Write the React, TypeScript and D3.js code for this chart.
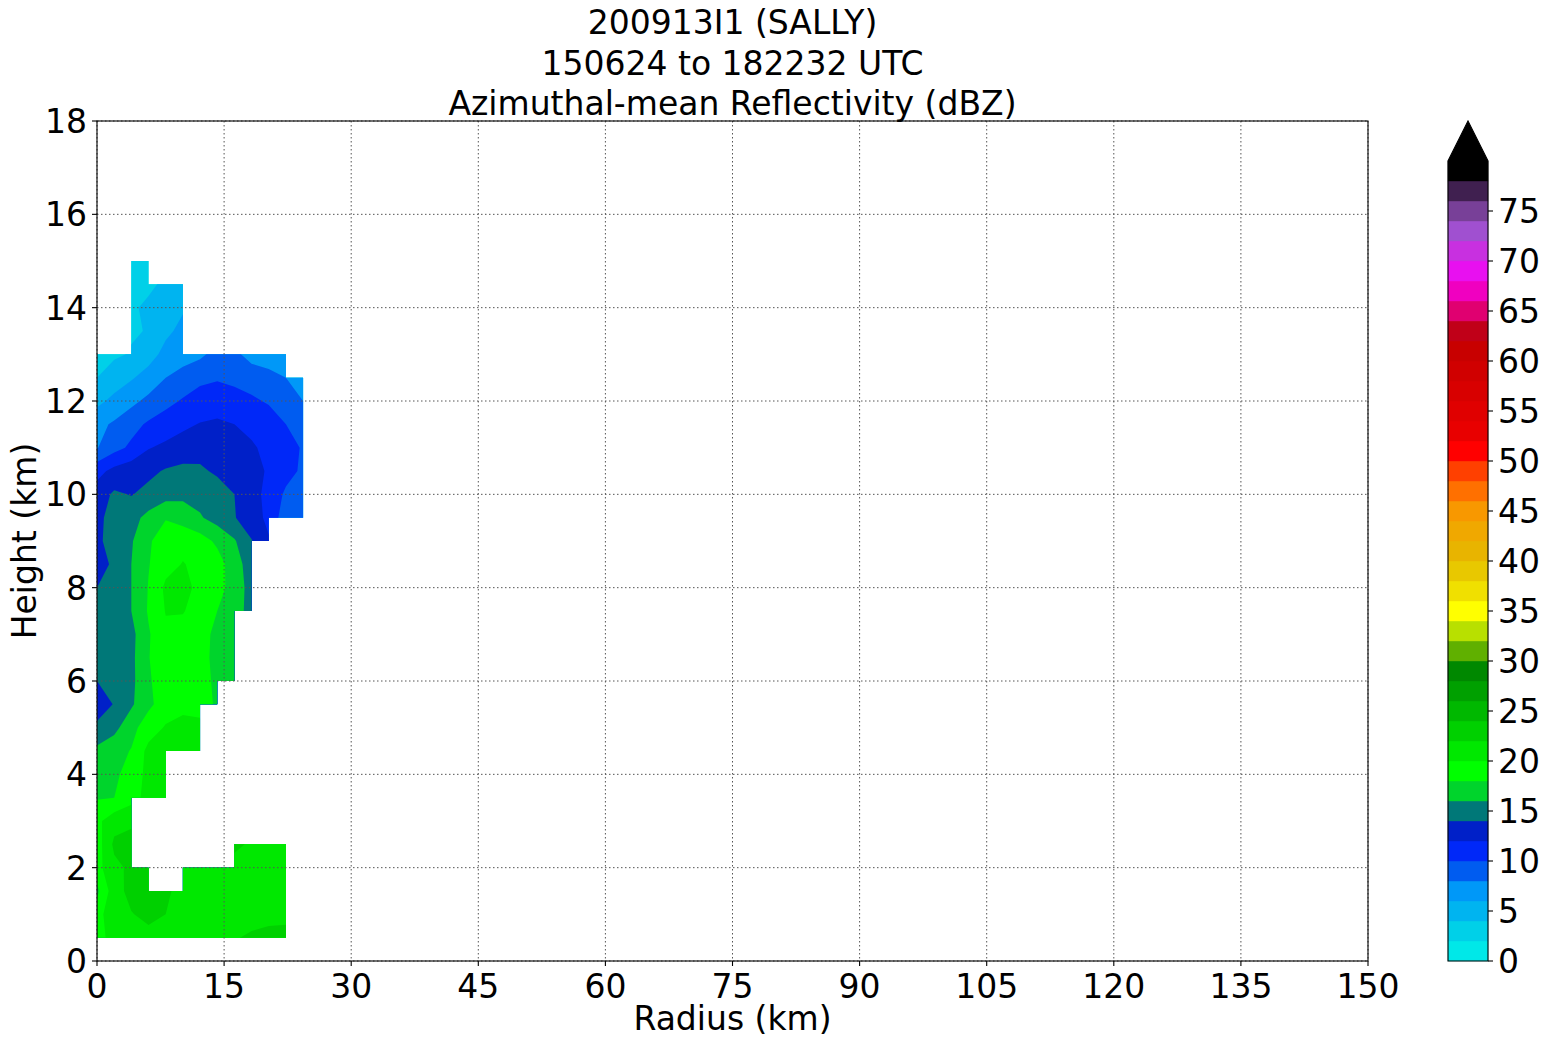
import React, { useEffect, useRef } from 'react';
import * as d3 from 'd3';

// analysis grid (km)
const radiusKm = [0, 2.03, 4.05, 6.08, 8.11, 10.14, 12.16, 14.19, 16.22, 18.24, 20.27, 22.3, 24.32];
const heightKm = [
  0, 0.5, 1, 1.5, 2, 2.5, 3, 3.5, 4, 4.5, 5, 5.5, 6, 6.5, 7, 7.5, 8, 8.5, 9, 9.5, 10, 10.5, 11,
  11.5, 12, 12.5, 13, 13.5, 14, 14.5, 15
];

const N = null;
// azimuthal-mean reflectivity (dBZ), one row per height, null = no data
const dbzRows: (number | null)[][] = [
  [N, N, N, N, N, N, N, N, N, N, N, N, N],
  [19.2, 20.8, 21.3, 21.4, 21.5, 21.5, 21.6, 21.7, 21.9, 22.2, 22.4, 22.5, N],
  [19.3, 21.2, 21.9, 22.5, 22.0, 21.4, 21.3, 21.2, 21.3, 21.5, 21.6, 21.6, N],
  [17.5, 21.2, 22.6, 23.0, 22.2, 21.6, 21.4, 21.3, 21.3, 21.2, 21.1, 21.2, N],
  [19.3, 21.5, 22.4, 22.6, N, 21.8, 21.6, 21.4, 21.5, 21.5, 21.3, 21.2, N],
  [19.0, 22.4, 22.8, N, N, N, N, N, 22.3, 21.8, 21.5, 21.5, N],
  [19.5, 21.2, 21.6, N, N, N, N, N, N, N, N, N, N],
  [17.85, 18.0, 19.3, 20.6, 21.0, N, N, N, N, N, N, N, N],
  [16.6, 17.6, 18.8, 20.6, 21.2, N, N, N, N, N, N, N, N],
  [16.5, 17.3, 18.1, 20.6, 21.0, 21.0, 20.5, N, N, N, N, N, N],
  [14.4, 15.4, 17.4, 19.0, 20.2, 20.6, 20.6, N, N, N, N, N, N],
  [13.0, 14.1, 15.7, 17.6, 18.9, 19.5, 19.2, 17.6, N, N, N, N, N],
  [14.0, 15.0, 15.5, 17.7, 19.3, 19.3, 18.9, 17.5, 16.7, N, N, N, N],
  [15.0, 15.3, 15.5, 17.9, 19.5, 19.3, 18.6, 17.5, 16.8, N, N, N, N],
  [15.0, 15.2, 15.4, 17.8, 19.6, 19.4, 18.6, 17.6, 16.9, N, N, N, N],
  [14.6, 15.3, 16.0, 18.2, 20.1, 20.1, 19.3, 18.0, 16.6, 15.5, N, N, N],
  [14.0, 15.0, 16.0, 18.1, 20.4, 20.6, 19.5, 18.9, 17.0, 15.3, N, N, N],
  [13.3, 14.3, 16.0, 17.9, 19.3, 20.1, 19.5, 18.9, 16.9, 15.0, N, N, N],
  [13.6, 14.8, 15.8, 17.8, 18.8, 19.4, 18.9, 17.6, 16.2, 14.1, 12.2, N, N],
  [13.6, 14.6, 15.3, 16.6, 17.9, 17.2, 16.2, 15.2, 14.1, 13.0, 11.5, 8.8, 8.5],
  [13.0, 14.3, 13.9, 14.6, 15.2, 15.5, 15.3, 14.9, 14.0, 12.5, 11.6, 9.6, 9.2],
  [11.3, 12.6, 13.2, 13.5, 14.2, 14.5, 14.3, 13.7, 13.3, 12.6, 11.8, 10.8, 9.6],
  [7.9, 9.3, 10.4, 11.9, 12.4, 12.9, 13.3, 13.3, 13.0, 12.2, 11.6, 10.8, 9.8],
  [7.4, 8.3, 9.3, 10.3, 11.0, 11.6, 12.1, 12.3, 12.0, 11.6, 11.0, 10.0, 9.3],
  [5.5, 6.5, 7.5, 8.5, 9.4, 10.2, 10.9, 11.1, 10.8, 10.3, 9.8, 9.0, 8.0],
  [4.0, 5.0, 5.8, 6.8, 8.0, 8.8, 9.5, 9.8, 9.5, 9.2, 8.7, 8.0, 7.4],
  [3.3, 3.7, 4.15, 5.2, 6.6, 7.1, 7.6, 8.7, 8.5, 7.2, 6.8, 6.5, N],
  [N, N, 3.8, 4.1, 5.6, 6.5, N, N, N, N, N, N, N],
  [N, N, 3.7, 4.4, 5.0, 5.8, N, N, N, N, N, N, N],
  [N, N, 3.2, 3.6, 4.4, 5.2, N, N, N, N, N, N, N],
  [N, N, 2.8, 3.3, N, N, N, N, N, N, N, N, N]
];

// contour levels 0..80 every 2 dBZ, colour of each bin
const levels = [
  0, 2, 4, 6, 8, 10, 12, 14, 16, 18, 20, 22, 24, 26, 28, 30, 32, 34, 36, 38, 40,
  42, 44, 46, 48, 50, 52, 54, 56, 58, 60, 62, 64, 66, 68, 70, 72, 74, 76, 78, 80
];
const levelColors = [
  '#00e8e8', '#00d0e8', '#00b4f0', '#0098f8', '#005cf0', '#0028f8', '#0020c8', '#007878',
  '#00d42c', '#00ff00', '#00e800', '#00d000', '#00b800', '#00a000', '#008800', '#60b000',
  '#b8e000', '#ffff00', '#f0e000', '#e8c800', '#e8b400', '#f0a800', '#f89800', '#ff7000',
  '#ff4000', '#ff0000', '#e80000', '#e00000', '#d80000', '#d00000', '#c80000', '#c00018',
  '#e00070', '#f000c0', '#e810f0', '#c830e0', '#a050d0', '#784098', '#402050', '#000000'
];
const overColor = '#000000';

const xTicks = [0, 15, 30, 45, 60, 75, 90, 105, 120, 135, 150];
const yTicks = [0, 2, 4, 6, 8, 10, 12, 14, 16, 18];
const cbarTicks = [0, 5, 10, 15, 20, 25, 30, 35, 40, 45, 50, 55, 60, 65, 70, 75];
const titleLines = ['200913I1 (SALLY)', '150624 to 182232 UTC', 'Azimuthal-mean Reflectivity (dBZ)'];

const canvasWidth = 1548;
const canvasHeight = 1045;
const plot = { left: 97, right: 1368, top: 121, bottom: 961 };
const cbar = { left: 1448, right: 1488, top: 161, bottom: 961, tip: 121 };
const font = 'DejaVu Sans';
const fontSize = 33;

function App() {
  const svgRef = useRef<SVGSVGElement>(null);

  useEffect(() => {
    const svg = d3.select(svgRef.current);
    svg.selectAll('*').remove();

    const x = d3.scaleLinear().domain([0, 150]).range([plot.left, plot.right]);
    const y = d3.scaleLinear().domain([0, 18]).range([plot.bottom, plot.top]);
    const c = d3.scaleLinear().domain([0, 80]).range([cbar.bottom, cbar.top]);

    const nx = radiusKm.length;
    const ny = heightKm.length;

    // fill the missing points from their neighbours so the contours close nicely,
    // the mask below hides them again (like matplotlib does with NaN cells)
    let grid = dbzRows.map(r => r.map(v => (v == null ? NaN : v)));
    for (let pass = 0; pass < 80; pass++) {
      let changed = false;
      const next = grid.map(r => r.slice());
      for (let j = 0; j < ny; j++) {
        for (let i = 0; i < nx; i++) {
          if (!isNaN(grid[j][i])) continue;
          const nb = [
            grid[j - 1]?.[i],
            grid[j + 1]?.[i],
            grid[j]?.[i - 1],
            grid[j]?.[i + 1]
          ].filter(v => v !== undefined && !isNaN(v as number)) as number[];
          if (nb.length) {
            next[j][i] = d3.mean(nb) as number;
            changed = true;
          }
        }
      }
      grid = next;
      if (!changed) break;
    }
    const values = grid.flat();

    const idxX = d3.scaleLinear().domain(radiusKm.map((_, i) => i)).range(radiusKm);
    const idxY = d3.scaleLinear().domain(heightKm.map((_, i) => i)).range(heightKm);
    const px = (v: number) => x(idxX(v - 0.5));
    const py = (v: number) => y(idxY(v - 0.5));

    const contours = d3.contours().size([nx, ny]).thresholds(levels)(values);

    // mask: cells with four valid corners
    let mask = '';
    for (let j = 0; j < ny - 1; j++) {
      for (let i = 0; i < nx - 1; i++) {
        const ok = [dbzRows[j][i], dbzRows[j][i + 1], dbzRows[j + 1][i], dbzRows[j + 1][i + 1]].every(
          v => v != null
        );
        if (!ok) continue;
        const x0 = x(radiusKm[i]);
        const x1 = x(radiusKm[i + 1]);
        const y0 = y(heightKm[j + 1]);
        const y1 = y(heightKm[j]);
        mask += `M${x0},${y0}H${x1}V${y1}H${x0}Z`;
      }
    }
    svg.append('defs').append('clipPath').attr('id', 'dataMask').append('path').attr('d', mask);

    const fills = svg.append('g').attr('clip-path', 'url(#dataMask)');
    contours.forEach((mp, k) => {
      if (!mp.coordinates.length) return;
      const d = mp.coordinates
        .map(poly =>
          poly.map(ring => 'M' + ring.map(p => `${px(p[0])},${py(p[1])}`).join('L') + 'Z').join('')
        )
        .join('');
      fills
        .append('path')
        .attr('d', d)
        .attr('fill-rule', 'evenodd')
        .attr('fill', k < levelColors.length ? levelColors[k] : overColor);
    });

    // grid
    const grd = svg.append('g').attr('stroke', '#555').attr('stroke-width', 1).attr('stroke-dasharray', '1.5,2.5');
    xTicks.forEach(t => {
      grd.append('line').attr('x1', x(t)).attr('x2', x(t)).attr('y1', plot.top).attr('y2', plot.bottom);
    });
    yTicks.forEach(t => {
      grd.append('line').attr('x1', plot.left).attr('x2', plot.right).attr('y1', y(t)).attr('y2', y(t));
    });

    // spines
    svg
      .append('rect')
      .attr('x', plot.left)
      .attr('y', plot.top)
      .attr('width', plot.right - plot.left)
      .attr('height', plot.bottom - plot.top)
      .attr('fill', 'none')
      .attr('stroke', 'black')
      .attr('stroke-width', 1.1);

    const text = (
      g: d3.Selection<any, unknown, null, undefined>,
      tx: number,
      ty: number,
      s: string,
      anchor = 'middle'
    ) =>
      g
        .append('text')
        .attr('x', tx)
        .attr('y', ty)
        .attr('text-anchor', anchor)
        .attr('font-family', font)
        .attr('font-size', fontSize)
        .attr('fill', 'black')
        .text(s);

    const axes = svg.append('g');
    xTicks.forEach(t => {
      axes
        .append('line')
        .attr('x1', x(t))
        .attr('x2', x(t))
        .attr('y1', plot.bottom)
        .attr('y2', plot.bottom + 5)
        .attr('stroke', 'black')
        .attr('stroke-width', 1.1);
      text(axes, x(t), 998, String(t));
    });
    yTicks.forEach(t => {
      axes
        .append('line')
        .attr('x1', plot.left - 5)
        .attr('x2', plot.left)
        .attr('y1', y(t))
        .attr('y2', y(t))
        .attr('stroke', 'black')
        .attr('stroke-width', 1.1);
      text(axes, 87, y(t) + 12, String(t), 'end');
    });
    text(axes, (plot.left + plot.right) / 2, 1030, 'Radius (km)');
    text(axes, 0, 0, 'Height (km)').attr('transform', `translate(36, ${(plot.top + plot.bottom) / 2}) rotate(-90)`);

    titleLines.forEach((s, i) => {
      text(svg as any, (plot.left + plot.right) / 2, 34 + i * 40.5, s);
    });

    // colorbar
    const cb = svg.append('g');
    levelColors.forEach((col, k) => {
      cb.append('rect')
        .attr('x', cbar.left)
        .attr('width', cbar.right - cbar.left)
        .attr('y', c(levels[k + 1]))
        .attr('height', c(levels[k]) - c(levels[k + 1]))
        .attr('fill', col)
        .attr('stroke', col)
        .attr('stroke-width', 0.4);
    });
    const mid = (cbar.left + cbar.right) / 2;
    cb.append('path')
      .attr('d', `M${cbar.left},${cbar.top}L${mid},${cbar.tip}L${cbar.right},${cbar.top}Z`)
      .attr('fill', overColor);
    cb.append('path')
      .attr(
        'd',
        `M${cbar.left},${cbar.bottom}L${cbar.left},${cbar.top}L${mid},${cbar.tip}L${cbar.right},${cbar.top}L${cbar.right},${cbar.bottom}Z`
      )
      .attr('fill', 'none')
      .attr('stroke', 'black')
      .attr('stroke-width', 1.1);
    cbarTicks.forEach(t => {
      cb.append('line')
        .attr('x1', cbar.right)
        .attr('x2', cbar.right + 5)
        .attr('y1', c(t))
        .attr('y2', c(t))
        .attr('stroke', 'black')
        .attr('stroke-width', 1.1);
      text(cb, cbar.right + 10, c(t) + 12, String(t), 'start');
    });
  }, []);

  return (
    <svg
      ref={svgRef}
      width={canvasWidth}
      height={canvasHeight}
      style={{ position: 'absolute', left: 0, top: 0, background: 'white' }}
    />
  );
}

export default App;
